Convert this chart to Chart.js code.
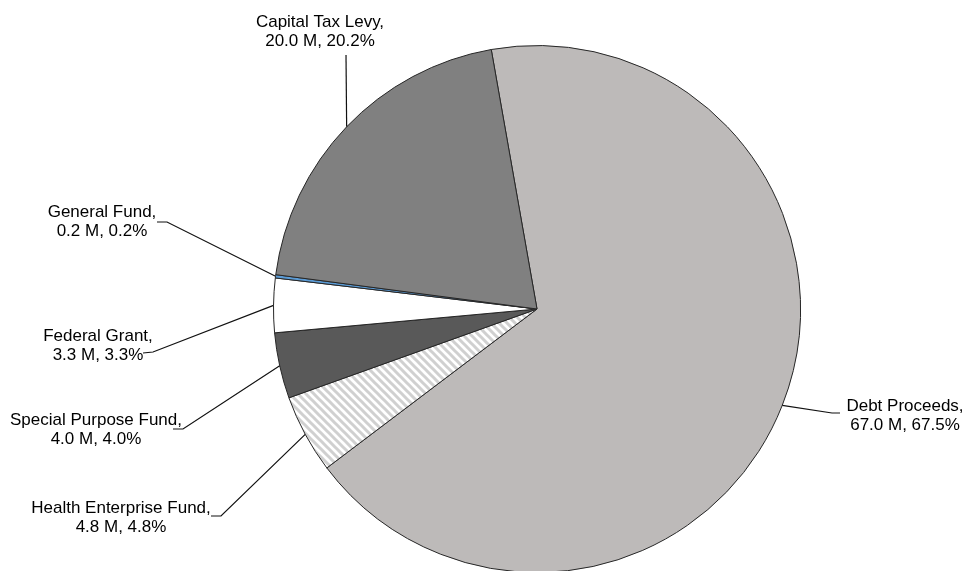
<!DOCTYPE html>
<html>
<head>
<meta charset="utf-8">
<title>Funding Sources</title>
<script src="https://cdn.jsdelivr.net/npm/chart.js@4/dist/chart.umd.min.js"></script>
<style>
  html, body { margin: 0; padding: 0; overflow: hidden; background: #fff; }
  canvas { display: block; }
</style>
</head>
<body>
<canvas id="chart1" width="969" height="600"></canvas>
<script>
const sources = ['Debt Proceeds', 'Health Enterprise Fund', 'Special Purpose Fund', 'Federal Grant', 'General Fund', 'Capital Tax Levy'];
const amounts = [67.0, 4.8, 4.0, 3.3, 0.2, 20.0];   // millions
const shares = [67.5, 4.8, 4.0, 3.3, 0.2, 20.2];    // percent of total

// diagonal hatch for the health fund slice
function hatch() {
  const c = document.createElement('canvas');
  c.width = 8; c.height = 8;
  const g = c.getContext('2d');
  g.fillStyle = '#ffffff';
  g.fillRect(0, 0, 8, 8);
  g.strokeStyle = '#d0d0d0';
  g.lineWidth = 3;
  g.beginPath();
  g.moveTo(-4, 4); g.lineTo(4, 12);
  g.moveTo(0, 0); g.lineTo(8, 8);
  g.moveTo(4, -4); g.lineTo(12, 4);
  g.stroke();
  return g.createPattern(c, 'repeat');
}

const fills = ['#bdbab9', hatch(), '#595959', '#ffffff', '#5b9bd5', '#808080'];

// where each label sits: text centre x, first baseline, elbow and end of the leader
const labelPos = [
  { x: 905, y: 411, elbow: [832, 413], end: [840, 413] },
  { x: 121, y: 513, elbow: [221, 516], end: [211, 516] },
  { x: 96,  y: 425, elbow: [183, 429], end: [173, 429] },
  { x: 98,  y: 341, elbow: [153, 352], end: [143, 353] },
  { x: 102, y: 217, elbow: [167, 222], end: [157, 222] },
  { x: 320, y: 27,  elbow: [346, 55],  end: [346, 55] }
];

const leaderLabels = {
  id: 'leaderLabels',
  afterDraw(chart) {
    const ctx = chart.ctx;
    const arcs = chart.getDatasetMeta(0).data;
    ctx.save();
    ctx.font = '17px "Liberation Sans", Arial, sans-serif';
    ctx.textAlign = 'center';
    ctx.textBaseline = 'alphabetic';
    arcs.forEach((arc, i) => {
      const p = arc.getProps(['x', 'y', 'startAngle', 'endAngle', 'outerRadius'], true);
      const mid = (p.startAngle + p.endAngle) / 2;
      const ax = p.x + Math.cos(mid) * p.outerRadius;
      const ay = p.y + Math.sin(mid) * p.outerRadius;
      const pos = labelPos[i];
      ctx.strokeStyle = '#111111';
      ctx.lineWidth = 1.2;
      ctx.beginPath();
      ctx.moveTo(ax, ay);
      ctx.lineTo(pos.elbow[0], pos.elbow[1]);
      ctx.lineTo(pos.end[0], pos.end[1]);
      ctx.stroke();
      ctx.fillStyle = '#000';
      ctx.fillText(sources[i] + ',', pos.x, pos.y);
      ctx.fillText(amounts[i].toFixed(1) + ' M, ' + shares[i].toFixed(1) + '%', pos.x, pos.y + 19.3);
    });
    ctx.restore();
  }
};

const config = {
  type: 'pie',
  data: {
    labels: sources,
    datasets: [{
      data: amounts,
      backgroundColor: fills,
      borderColor: '#262626',
      borderWidth: 1,
      clip: false
    }]
  },
  options: {
    responsive: false,
    animation: false,
    rotation: -10,
    layout: { padding: { left: 273, right: 168, top: 45, bottom: 27 } },
    plugins: {
      legend: { display: false },
      tooltip: { enabled: false }
    }
  },
  plugins: [leaderLabels]
};

const myChart = new Chart(document.getElementById('chart1').getContext('2d'), config);
</script>
</body>
</html>
